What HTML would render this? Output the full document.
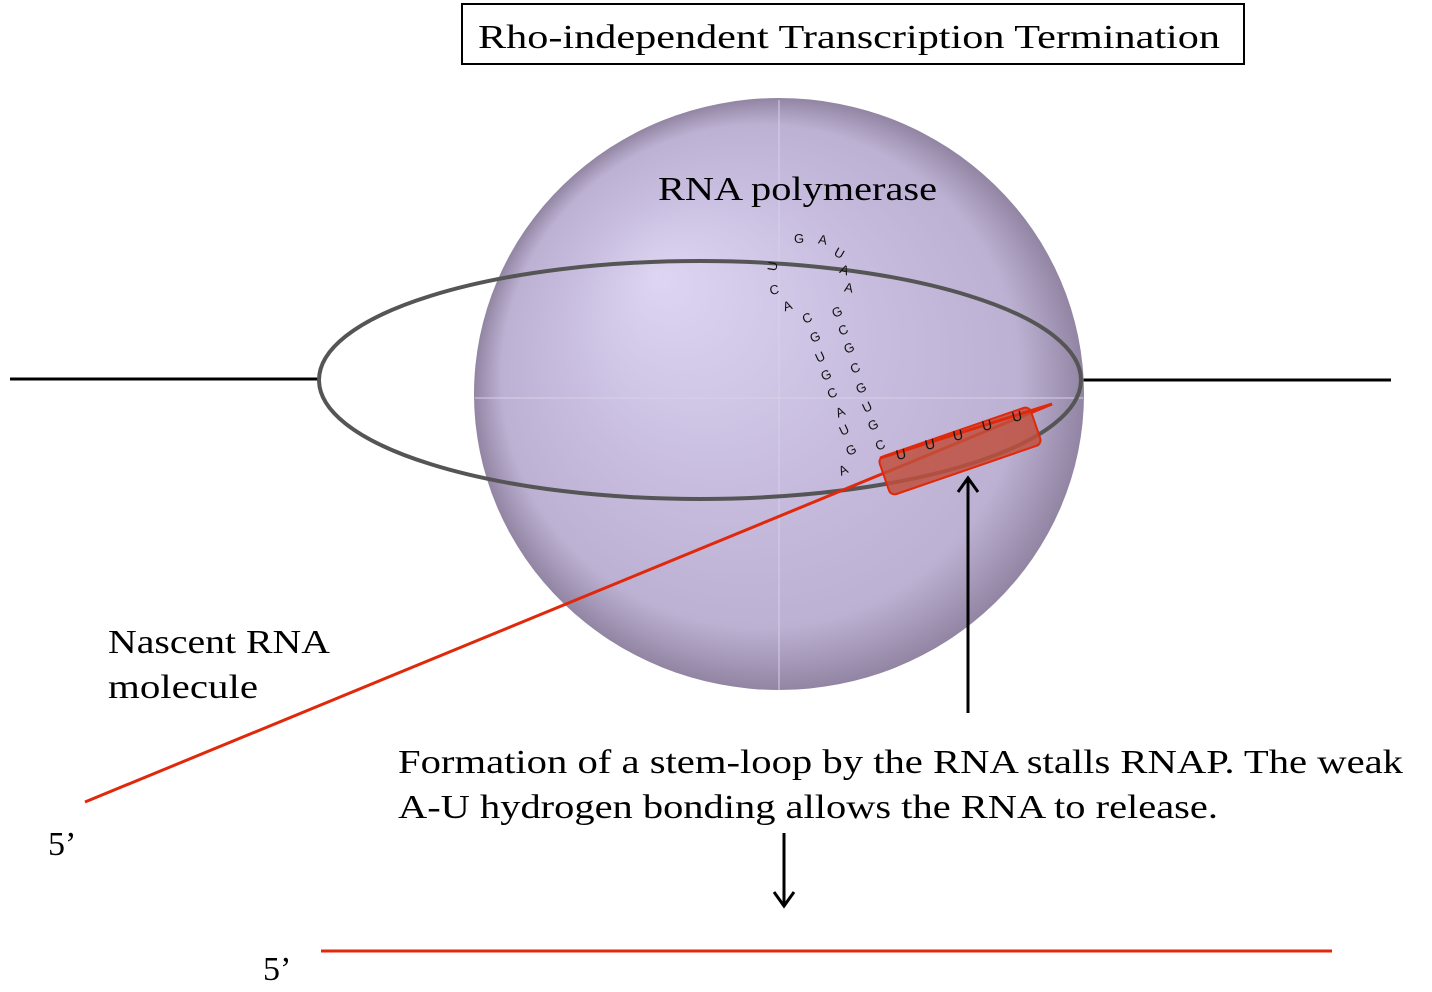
<!DOCTYPE html>
<html><head><meta charset="utf-8"><style>html,body{margin:0;padding:0;background:#fff;}svg{display:block}</style></head>
<body>
<svg width="1432" height="992" viewBox="0 0 1432 992" xmlns="http://www.w3.org/2000/svg" font-family="Liberation Serif, serif">
<defs>
<radialGradient id="sph" cx="0.5" cy="0.5" r="0.5" fx="0.3" fy="0.3">
<stop offset="0" stop-color="#ddd5f2"/>
<stop offset="0.5" stop-color="#c8bddf"/>
<stop offset="0.85" stop-color="#bdb1d3"/>
<stop offset="1" stop-color="#9285a3"/>
</radialGradient>
</defs>
<rect x="462" y="4" width="782" height="60" fill="#fff" stroke="#000" stroke-width="2"/>
<text x="478" y="48" font-size="34" textLength="742" lengthAdjust="spacingAndGlyphs">Rho-independent Transcription Termination</text>
<line x1="10" y1="379" x2="320" y2="379" stroke="#000" stroke-width="3"/>
<line x1="1080" y1="380" x2="1391" y2="380" stroke="#000" stroke-width="3"/>
<ellipse cx="779" cy="394" rx="305" ry="296" fill="url(#sph)"/>
<line x1="779" y1="100" x2="779" y2="690" stroke="#d8d0e8" stroke-width="1"/>
<line x1="475" y1="398" x2="1083" y2="398" stroke="#d8d0e8" stroke-width="1"/>
<ellipse cx="700" cy="380" rx="381" ry="119" fill="none" stroke="#555" stroke-width="4"/>
<text x="658" y="200" font-size="34" textLength="279" lengthAdjust="spacingAndGlyphs">RNA polymerase</text>
<g font-family="Liberation Sans, sans-serif" font-size="13" fill="#111" text-anchor="middle">
<text transform="translate(845,474) rotate(-25)">A</text>
<text transform="translate(853,454) rotate(-25)">G</text>
<text transform="translate(846,434) rotate(-25)">U</text>
<text transform="translate(842,416) rotate(-25)">A</text>
<text transform="translate(834,397) rotate(-25)">C</text>
<text transform="translate(828,379) rotate(-25)">G</text>
<text transform="translate(822,361) rotate(-25)">U</text>
<text transform="translate(817,341) rotate(-25)">G</text>
<text transform="translate(809,322) rotate(-25)">C</text>
<text transform="translate(789,310) rotate(-20)">A</text>
<text transform="translate(775,294) rotate(-10)">C</text>
<text transform="translate(777,267) rotate(-80)">U</text>
<text transform="translate(799,243) rotate(0)">G</text>
<text transform="translate(822,244) rotate(10)">A</text>
<text transform="translate(837,257) rotate(30)">U</text>
<text transform="translate(843,274) rotate(20)">A</text>
<text transform="translate(848,292) rotate(10)">A</text>
<text transform="translate(839,316) rotate(-25)">G</text>
<text transform="translate(845,334) rotate(-25)">C</text>
<text transform="translate(851,352) rotate(-25)">G</text>
<text transform="translate(857,372) rotate(-25)">C</text>
<text transform="translate(863,392) rotate(-25)">G</text>
<text transform="translate(869,411) rotate(-25)">U</text>
<text transform="translate(875,429) rotate(-25)">G</text>
<text transform="translate(882,449) rotate(-25)">C</text>
</g>
<line x1="85" y1="802" x2="1052" y2="404" stroke="#e0280a" stroke-width="3"/>
<g transform="translate(960,451) rotate(-19)">
<rect x="-80" y="-20" width="160" height="40" rx="6" fill="#c0503e" fill-opacity="0.85" stroke="#e0280a" stroke-width="2"/>
</g>
<line x1="880" y1="458" x2="1052" y2="404" stroke="#e0280a" stroke-width="3"/>
<g font-family="Liberation Sans, sans-serif" font-size="14" fill="#111" text-anchor="middle">
<text transform="translate(902,459) rotate(-12)">U</text>
<text transform="translate(931,449) rotate(-12)">U</text>
<text transform="translate(959,440) rotate(-12)">U</text>
<text transform="translate(988,430) rotate(-12)">U</text>
<text transform="translate(1018,421) rotate(-12)">U</text>
</g>
<line x1="968" y1="713" x2="968" y2="480" stroke="#000" stroke-width="3"/>
<path d="M958 492 L968 478 L978 492" fill="none" stroke="#000" stroke-width="3"/>
<line x1="784" y1="833" x2="784" y2="904" stroke="#000" stroke-width="3"/>
<path d="M774 892 L784 906 L794 892" fill="none" stroke="#000" stroke-width="3"/>
<text x="108" y="653" font-size="34" textLength="222" lengthAdjust="spacingAndGlyphs">Nascent RNA</text>
<text x="108" y="698" font-size="34" textLength="150" lengthAdjust="spacingAndGlyphs">molecule</text>
<text x="398" y="773" font-size="34" textLength="1005" lengthAdjust="spacingAndGlyphs">Formation of a stem-loop by the RNA stalls RNAP. The weak</text>
<text x="398" y="818" font-size="34" textLength="820" lengthAdjust="spacingAndGlyphs">A-U hydrogen bonding allows the RNA to release.</text>
<text x="48" y="855" font-size="34">5’</text>
<line x1="321" y1="951" x2="1332" y2="951" stroke="#e0280a" stroke-width="3"/>
<text x="263" y="980" font-size="34">5’</text>
</svg>
</body></html>
